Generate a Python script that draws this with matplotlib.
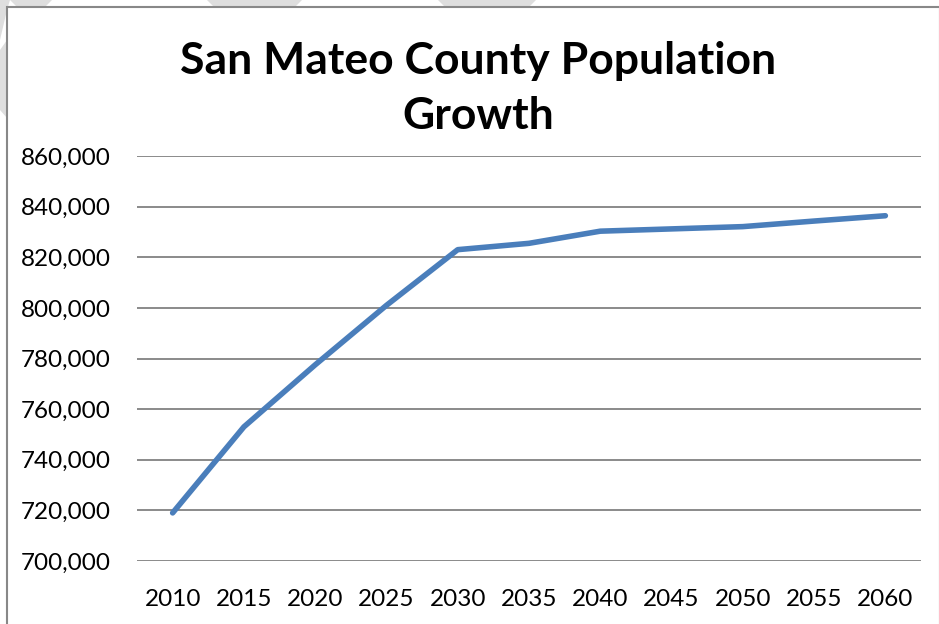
import matplotlib
matplotlib.use("Agg")
import matplotlib.pyplot as plt
from matplotlib.patches import Polygon, Rectangle
from matplotlib.ticker import FuncFormatter

years = ["2010", "2015", "2020", "2025", "2030", "2035", "2040", "2045", "2050", "2055", "2060"]
population = [719000, 753000, 777500, 801000, 823000, 825500, 830300, 831200, 832100, 834300, 836400]
y_ticks = [700000, 720000, 740000, 760000, 780000, 800000, 820000, 840000, 860000]
title_lines = ["San Mateo County Population", "Growth"]

W, H = 939, 624
fig = plt.figure(figsize=(W / 100, H / 100), dpi=100)
fig.patch.set_facecolor("white")

def fx(px):
    return px / W

def fy(py):
    return 1 - py / H

# faint watermark shapes outside chart border
wm = "#dedede"
shapes = [
    [(10, 0), (52, 0), (45, 7), (17, 7)],
    [(207, 0), (302, 0), (295, 7), (214, 7)],
    [(438, 0), (536, 0), (529, 7), (445, 7)],
    [(0, 0), (10, 0), (7, 10), (0, 40)],
    [(0, 50), (7, 40), (7, 118), (0, 110)],
]
for s in shapes:
    fig.patches.append(Polygon([(fx(a), fy(b)) for a, b in s], closed=True,
                               transform=fig.transFigure, facecolor=wm,
                               edgecolor="none", zorder=0))

# chart border
fig.patches.append(Rectangle((fx(7), fy(640)), fx(940) - fx(7), fy(7) - fy(640),
                             transform=fig.transFigure, facecolor="white",
                             edgecolor="#888888", linewidth=1.5, zorder=1))

ax = fig.add_axes([fx(137), fy(561), fx(921) - fx(137), fy(156) - fy(561)])
ax.set_facecolor("none")
ax.set_zorder(2)

x = list(range(len(years)))
ax.plot(x, population, color="#4a7ebb", linewidth=4.0, solid_capstyle="round",
        solid_joinstyle="round", zorder=3)

ax.set_xlim(-0.5, len(years) - 0.5)
ax.set_ylim(y_ticks[0], y_ticks[-1])
ax.set_xticks(x)
ax.set_xticklabels(years)
ax.set_yticks(y_ticks)
ax.yaxis.set_major_formatter(FuncFormatter(lambda v, p: f"{int(v):,}"))

for t in y_ticks:
    ax.axhline(t, color="#8a8a8a", linewidth=1.4, zorder=1)

for sp in ax.spines.values():
    sp.set_visible(False)
ax.tick_params(axis="both", length=0, labelsize=17.5)
ax.tick_params(axis="y", pad=19)
ax.tick_params(axis="x", pad=20)
for lab in ax.get_xticklabels() + ax.get_yticklabels():
    lab.set_fontfamily("Lato")
    lab.set_color("black")

fig.text(fx(478), fy(61), title_lines[0], ha="center", va="center", fontsize=32,
         fontweight="bold", fontfamily="Lato", zorder=5)
fig.text(fx(478), fy(116), title_lines[1], ha="center", va="center", fontsize=32,
         fontweight="bold", fontfamily="Lato", zorder=5)

fig.savefig("out.png", dpi=100, facecolor="white")
